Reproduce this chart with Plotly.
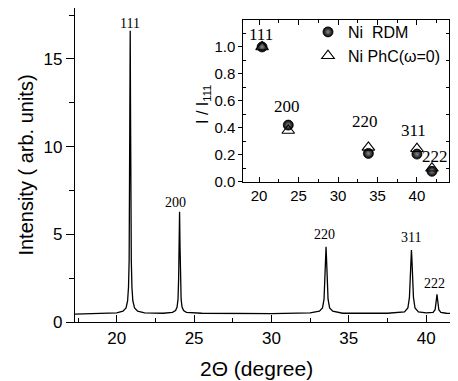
import plotly.graph_objects as go

# ---- main XRD pattern ----
two_theta = [17.3, 19.0, 20.0, 20.4, 20.6, 20.7, 20.76, 20.8, 20.83, 20.85, 20.87, 20.89, 20.91, 20.94, 20.98, 21.04, 21.15, 21.35, 21.8,
             23.0, 23.6, 23.8, 23.9, 23.96, 24.0, 24.03, 24.06, 24.09, 24.12, 24.16, 24.22, 24.32, 24.5, 25.5,
             30.0, 32.5, 33.1, 33.3, 33.4, 33.46, 33.5, 33.53, 33.56, 33.6, 33.66, 33.76, 33.96, 34.6,
             37.5, 38.6, 38.82, 38.92, 38.98, 39.02, 39.05, 39.08, 39.12, 39.18, 39.28, 39.5, 40.0,
             40.45, 40.58, 40.64, 40.68, 40.7, 40.72, 40.76, 40.82, 40.95, 41.3, 42.06]
intensity = [0.45, 0.47, 0.52, 0.62, 0.8, 1.2, 2.0, 3.5, 7.0, 12.0, 16.6, 12.0, 7.0, 3.5, 2.0, 1.2, 0.8, 0.62, 0.52,
             0.5, 0.55, 0.65, 0.85, 1.3, 2.5, 4.3, 6.28, 4.3, 2.5, 1.3, 0.85, 0.65, 0.55, 0.5,
             0.48, 0.52, 0.62, 0.8, 1.3, 2.6, 3.6, 4.29, 3.6, 2.6, 1.3, 0.8, 0.62, 0.5,
             0.5, 0.58, 0.8, 1.4, 2.8, 3.6, 4.1, 3.6, 2.8, 1.4, 0.8, 0.58, 0.52,
             0.55, 0.7, 1.0, 1.4, 1.58, 1.4, 1.0, 0.7, 0.55, 0.5, 0.48]

peak_labels = ["111", "200", "220", "311", "222"]
peak_label_x = [20.87, 23.8, 33.4, 39.0, 40.55]
peak_label_y = [17.0, 6.8, 5.0, 4.8, 2.17]

# ---- inset: relative intensities ----
inset_x = [20.38, 23.7, 33.85, 40.0, 41.9]
rdm_ratio = [1.0, 0.42, 0.21, 0.205, 0.077]
phc_ratio = [1.0, 0.38, 0.255, 0.245, 0.10]
inset_label_x = [20.3, 23.5, 33.4, 39.57, 42.3]
inset_label_y = [1.094, 0.556, 0.444, 0.383, 0.185]

SANS = "Liberation Sans, Arial, sans-serif"
SERIF = "Liberation Serif, Times New Roman, serif"

fig = go.Figure()
fig.add_trace(go.Scatter(x=two_theta, y=intensity, mode="lines",
                         line=dict(color="black", width=1.3), showlegend=False,
                         xaxis="x", yaxis="y"))
fig.add_trace(go.Scatter(x=inset_x, y=rdm_ratio, mode="markers", name="Ni\u00a0 RDM",
                         marker=dict(symbol="circle", size=10, color="black",
                                     gradient=dict(type="radial", color="#8a8a8a"),
                                     line=dict(color="black", width=0.8)),
                         xaxis="x2", yaxis="y2"))
fig.add_trace(go.Scatter(x=inset_x, y=phc_ratio, mode="markers", name="Ni PhC(\u03c9=0)",
                         marker=dict(symbol="triangle-up-open", size=11, color="black",
                                     line=dict(width=1.1)),
                         xaxis="x2", yaxis="y2"))

annotations = []
for t, x, y in zip(peak_labels, peak_label_x, peak_label_y):
    annotations.append(dict(text=t, x=x, y=y, xref="x", yref="y", showarrow=False,
                            font=dict(family=SERIF, size=14, color="black")))
for t, x, y in zip(peak_labels, inset_label_x, inset_label_y):
    annotations.append(dict(text=t, x=x, y=y, xref="x2", yref="y2", showarrow=False,
                            font=dict(family=SERIF, size=17, color="black")))
# inset y title
annotations.append(dict(text="I / I<sub>111</sub>", x=(203 - 75) / 383, y=(322 - 105) / 314,
                        xref="paper", yref="paper", xanchor="center", yanchor="middle",
                        showarrow=False, textangle=-90,
                        font=dict(family=SANS, size=16, color="black")))
# main x title
annotations.append(dict(text="2\u0398 (degree)", x=(256 - 75) / 383, y=-(368 - 322) / 314,
                        xref="paper", yref="paper", xanchor="center", yanchor="middle",
                        showarrow=False,
                        font=dict(family=SANS, size=21, color="black")))

fig.update_layout(
    width=450, height=373,
    margin=dict(l=67, r=0, t=0, b=59),
    paper_bgcolor="white", plot_bgcolor="white",
    font=dict(family=SANS, color="black"),
    xaxis=dict(range=[17.3, 42.06], domain=[0, 1], tickvals=[20, 25, 30, 35, 40],
               ticks="inside", ticklen=7, tickwidth=1.1, tickcolor="black",
               minor=dict(tickvals=[17.5, 22.5, 27.5, 32.5, 37.5], ticks="inside", ticklen=4,
                          tickcolor="black", tickwidth=1),
               showline=True, linecolor="black", linewidth=1.3, mirror=True,
               showgrid=False, zeroline=False,
               tickfont=dict(size=17)),
    yaxis=dict(range=[0, 17.9], domain=[0, 1], tickvals=[0, 5, 10, 15],
               ticks="outside", ticklen=8, tickwidth=1.1, tickcolor="black",
               minor=dict(tickvals=[2.5, 7.5, 12.5, 17.5], ticks="outside", ticklen=5,
                          tickcolor="black", tickwidth=1),
               showline=True, linecolor="black", linewidth=1.3, mirror=True,
               showgrid=False, zeroline=False,
               title=dict(text="Intensity ( arb. units)", font=dict(size=20), standoff=4),
               tickfont=dict(size=17)),
    xaxis2=dict(range=[18, 44.1], domain=[0.4394, 0.9773], anchor="y2",
                tickvals=[20, 25, 30, 35, 40], ticks="inside", ticklen=5, tickcolor="black",
                minor=dict(tickvals=[22.5, 27.5, 32.5, 37.5, 42.5], ticks="inside", ticklen=3,
                           tickcolor="black"),
                showline=True, linecolor="black", linewidth=1.1, mirror="ticks",
                showgrid=False, zeroline=False, tickfont=dict(size=15)),
    yaxis2=dict(range=[0, 1.2], domain=[0.4468, 0.9618], anchor="x2",
                tickvals=[0, 0.2, 0.4, 0.6, 0.8, 1.0], tickformat=".1f",
                ticks="outside", ticklen=4, tickcolor="black",
                minor=dict(tickvals=[0.1, 0.3, 0.5, 0.7, 0.9, 1.1], ticks="inside", ticklen=3,
                           tickcolor="black"),
                showline=True, linecolor="black", linewidth=1.1, mirror="ticks",
                showgrid=False, zeroline=False, tickfont=dict(size=15)),
    legend=dict(x=(308 - 75) / 383, y=(322 - 15) / 314, xanchor="left", yanchor="top",
                bgcolor="rgba(0,0,0,0)", borderwidth=0, tracegroupgap=0,
                font=dict(family=SANS, size=16, color="black")),
    annotations=annotations,
)

fig.write_html("out.html")
